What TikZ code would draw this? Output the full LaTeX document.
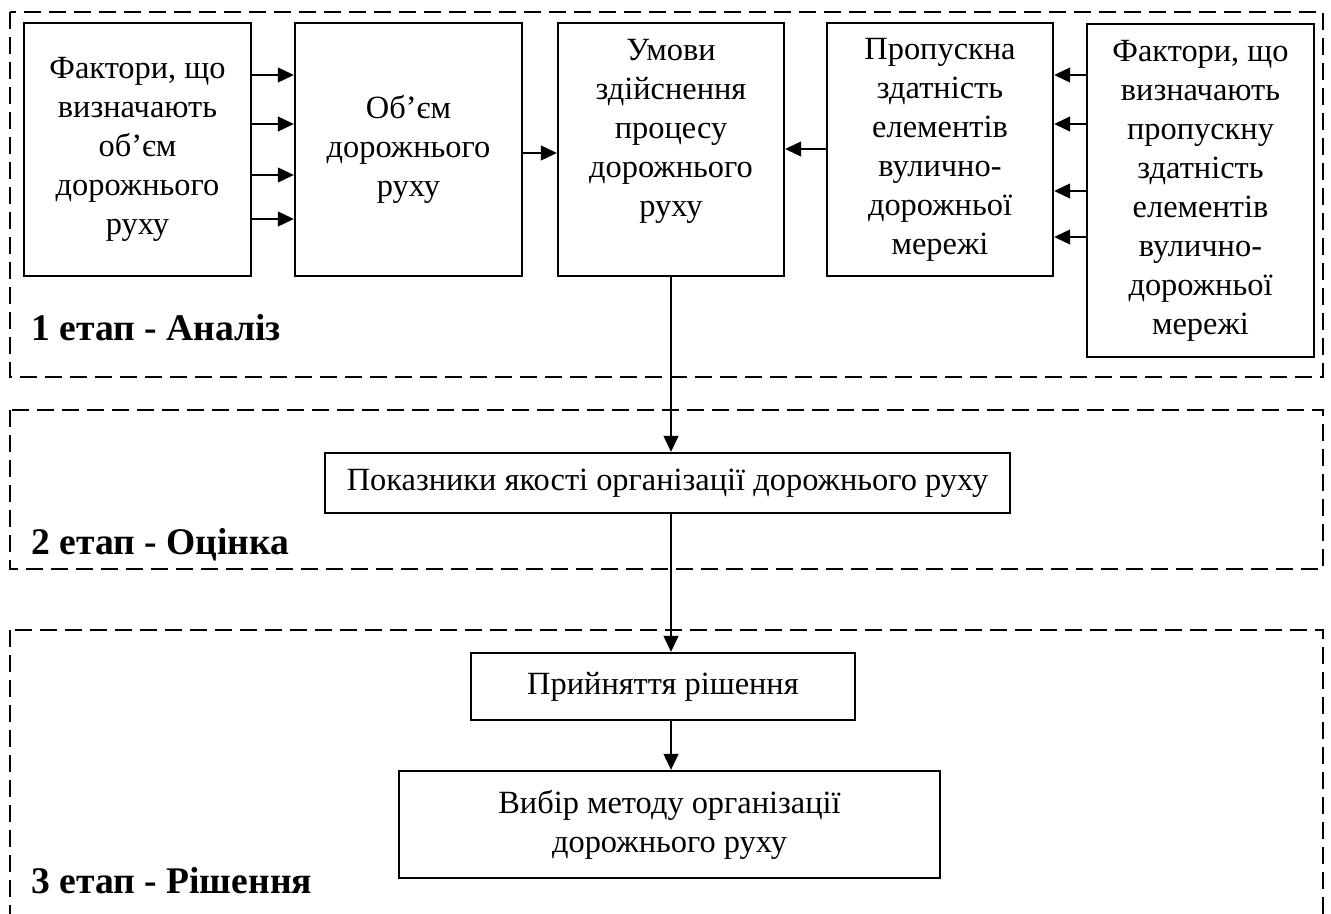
\documentclass[tikz,border=0pt]{standalone}
\usepackage{fontspec}
\setmainfont{Liberation Serif}
\newfontfamily\timesfont{Liberation Serif}
\usetikzlibrary{arrows.meta}

\tikzset{
  block/.style={draw, line width=1.2pt, align=center, inner sep=0pt, font=\timesfont\fontsize{16.2}{19.5}\selectfont},
  txt/.style={align=center, inner sep=0pt, font=\timesfont\fontsize{16.2}{19.5}\selectfont},
  stage/.style={draw, dash pattern=on 8.5pt off 4pt, line width=1.3pt},
  arr/.style={-{Triangle[length=8pt,width=7.5pt]}, line width=0.6pt},
  stagelabel/.style={anchor=base west, inner sep=0pt, font=\timesfont\fontsize{18.8}{22}\selectfont\bfseries}
}

\begin{document}
\begin{tikzpicture}[x=0.5pt, y=-0.5pt]
\useasboundingbox (0,0) rectangle (1331,914);
\draw[stage] (10,12) rectangle (1323,377);
\draw[stage] (10,410) rectangle (1323,569);
\draw[stage] (10,630) rectangle (1323,915.5);
\node[stagelabel] (lab1) at (31,340) {1 етап - Аналіз};
\node[stagelabel] (lab2) at (31,554) {2 етап - Оцінка};
\node[stagelabel] (lab3) at (31,893) {3 етап - Рішення};

\node[block, minimum width=113.5pt, minimum height=126.5pt] (fobem) at (137.5,149.5) {Фактори, що\\визначають\\об’єм\\дорожнього\\руху};
\node[block, minimum width=113.5pt, minimum height=126.5pt] (obem) at (408.5,149.5) {Об’єм\\дорожнього\\руху};
\node[block, minimum width=113pt, minimum height=126.5pt] (umovy) at (671,149.5) {};
\node[txt] (umovytxt) at (671,131) {Умови\\здійснення\\процесу\\дорожнього\\руху};
\node[block, minimum width=113pt, minimum height=126.5pt] (propusk) at (940,149.5) {Пропускна\\здатність\\елементів\\вулично-\\дорожньої\\мережі};
\node[block, minimum width=113.5pt, minimum height=166.5pt] (fprop) at (1200.5,190.5) {Фактори, що\\визначають\\пропускну\\здатність\\елементів\\вулично-\\дорожньої\\мережі};

\node[block, minimum width=342.5pt, minimum height=30pt] (pokaz) at (667.5,483) {Показники якості організації дорожнього руху};
\node[block, minimum width=192pt, minimum height=33.5pt] (pryin) at (663,686.5) {Прийняття рішення};
\node[block, minimum width=270.5pt, minimum height=53.5pt] (vybir) at (669.5,824.5) {Вибір методу організації\\дорожнього руху};

\foreach \y in {75,124,175,219}
  \draw[arr] (fobem.east |- 0,\y) -- (obem.west |- 0,\y);
\foreach \y in {75,124,191,237}
  \draw[arr] (fprop.west |- 0,\y) -- (propusk.east |- 0,\y);
\draw[arr] (obem.east |- 0,153) -- (umovy.west |- 0,153);
\draw[arr] (propusk.west |- 0,149) -- (umovy.east |- 0,149);
\draw[arr] (umovy.south) -- (umovy.south |- pokaz.north);
\draw[arr] (umovy.south |- pokaz.south) -- (umovy.south |- pryin.north);
\draw[arr] (umovy.south |- pryin.south) -- (umovy.south |- vybir.north);
\end{tikzpicture}
\end{document}
